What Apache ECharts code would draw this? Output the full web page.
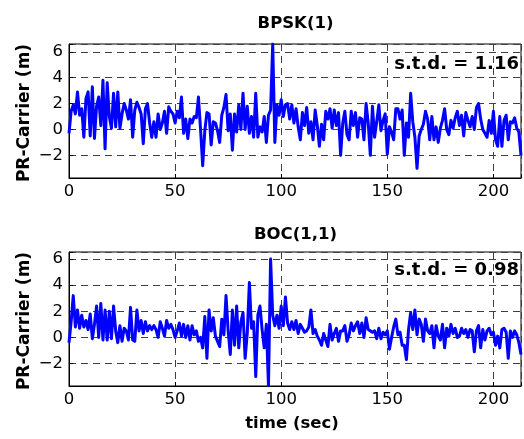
<!DOCTYPE html>
<html><head><meta charset="utf-8">
<script src="https://cdn.jsdelivr.net/npm/echarts@6/dist/echarts.min.js"></script>
<style>html,body{margin:0;padding:0;background:#fff}#c{width:524px;height:439px}</style>
</head><body><div id="c"></div>
<script>
// ---- data ----
const panelTitles = ['BPSK(1)', 'BOC(1,1)'];
const stdLabels = ['s.t.d. = 1.16', 's.t.d. = 0.98'];
const yAxisTitle = 'PR-Carrier (m)';
const xAxisTitle = 'time (sec)';
const xTicks = [0, 50, 100, 150, 200];
const yTicks = [-2, 0, 2, 4, 6];
const timeStart = 0;      // sec
const sampleStep = 1;     // sec between samples
const xRange = [0, 213];
const yRangeTop = [-3.75, 6.6];
const yRangeBottom = [-3.72, 6.54];

const bpsk = [
 -0.3,1.4,1.9,1.2,2.9,1.1,1.6,-0.6,2.4,2.9,
 -0.5,3.3,-0.7,1.8,2.5,0.3,3.8,-1.5,3.6,1.0,
 0.1,2.8,0.2,2.9,0.1,1.2,2.0,1.5,0.8,2.3,
 -0.6,1.5,2.1,1.7,1.2,-1.1,1.6,2.0,0.5,-0.6,
 0.6,-0.6,1.2,0.0,0.5,1.4,-0.3,1.75,1.4,1.2,
 0.5,1.4,0.9,2.5,-0.3,0.8,-0.7,0.8,0.5,1.0,
 0.9,2.5,0.0,-2.8,-0.1,1.3,1.2,-1.2,0.6,0.5,
 -0.1,-1.0,1.1,1.7,2.7,-0.1,1.2,-1.6,1.2,-0.2,
 1.9,0.0,2.8,0.0,1.8,-0.3,1.0,-0.6,2.8,-0.6,
 0.2,-0.2,1.0,-1.0,1.1,1.5,6.6,-1.0,1.9,1.1,
 2.3,1.0,1.9,2.0,0.8,1.9,0.5,1.6,0.2,-0.8,
 1.3,0.3,1.7,-0.3,0.6,-0.8,1.5,0.3,-1.3,0.4,
 -0.8,1.4,0.8,1.6,0.1,1.5,0.3,1.3,-2.0,0.5,
 1.4,-0.4,-0.8,1.4,0.3,1.3,-0.6,0.9,0.8,-0.8,
 2.0,0.5,-2.0,1.8,-0.6,0.6,1.9,-0.1,0.7,1.2,
 -1.9,0.2,-0.2,-0.8,1.6,1.6,0.8,1.5,-2.0,0.5,
 -0.6,2.8,0.6,-0.6,-3.0,-0.5,0.0,0.4,1.4,0.8,
 -0.8,1.0,-0.8,0.2,-1.0,0.1,0.7,1.6,0.0,-0.4,
 0.7,0.1,0.9,1.4,0.3,1.1,-0.5,1.3,0.7,0.2,
 1.0,0.0,1.7,2.0,0.8,0.0,-0.3,-0.6,0.7,-0.3,
 1.4,-0.8,-1.3,1.0,-1.3,0.7,1.1,-0.8,0.6,0.5,
 0.9,0.1,-0.2,-2.0
];

const boc = [
 -0.4,1.2,3.2,0.8,2.1,0.7,1.7,0.8,1.3,0.6,
 1.8,-0.1,1.0,2.4,0.0,2.6,-0.2,2.1,-0.2,2.0,
 -0.1,2.4,0.5,-0.4,0.9,-0.3,0.7,0.5,-0.2,2.3,
 -0.2,-0.3,2.1,0.5,1.3,0.3,1.2,0.5,0.9,0.6,
 0.9,0.6,0.0,1.2,0.7,0.1,1.3,0.7,1.0,0.6,
 0.0,0.5,1.1,0.1,1.0,0.0,0.9,-0.2,0.9,0.2,
 0.5,-0.3,0.0,-0.8,1.6,-1.6,2.1,0.5,1.5,0.1,
 -0.3,-0.7,1.4,0.2,3.2,0.5,-1.3,2.1,-0.6,2.4,
 -0.8,1.2,1.9,-1.6,0.3,4.2,0.7,1.2,-3.0,1.7,
 2.4,0.6,-0.8,1.0,-3.7,6.0,1.7,0.9,1.7,0.7,
 2.4,0.9,3.1,1.1,0.6,1.2,0.6,1.3,0.3,1.0,
 0.7,0.4,0.5,0.8,2.1,0.3,0.6,0.1,-0.2,-0.6,
 0.3,-0.2,-0.7,1.0,-0.2,0.3,0.7,-0.3,0.5,0.5,
 0.9,-0.3,0.2,1.1,0.5,0.9,1.2,0.3,1.1,0.0,
 1.5,0.6,0.5,0.4,0.5,-0.1,0.7,-0.1,0.4,0.2,
 0.5,-0.9,0.0,0.8,1.4,0.2,0.4,-0.6,-0.6,-1.7,
 0.6,1.9,0.6,2.1,0.2,1.4,1.0,-0.3,1.4,0.5,
 0.3,0.9,-0.8,0.9,0.1,-0.2,1.0,-0.8,0.7,0.1,
 1.0,0.3,0.7,0.0,0.1,0.7,0.3,0.6,0.0,0.6,
 0.5,-1.1,0.5,0.9,-0.8,0.6,-0.2,0.5,0.7,0.2,
 0.4,-0.6,0.1,-0.8,0.6,0.7,0.4,-1.6,0.5,0.0,
 0.5,0.2,-0.4,-1.3
];

// ---- chart ----
const toPairs = arr => arr.map((v, i) => [timeStart + i * sampleStep, v]);
const fmtNum = v => (v < 0 ? '\u2212' + Math.abs(v) : String(v));

const grids = [
  {left: 69, top: 44, width: 453, height: 134},
  {left: 69, top: 252, width: 453, height: 134}
];
const gridLine = {show: true, lineStyle: {color: '#404040', width: 1, type: [7, 5]}};
const labelFont = {color: '#000', fontSize: 16.5, fontFamily: 'DejaVu Sans'};

function xAx(i) {
  return {
    type: 'value', gridIndex: i, min: xRange[0], max: xRange[1],
    minInterval: xTicks[1] - xTicks[0], maxInterval: xTicks[1] - xTicks[0],
    axisLine: {show: true, onZero: false, lineStyle: {color: '#000', width: 1}},
    axisTick: {show: true, inside: true, length: 4, lineStyle: {color: '#000'}},
    axisLabel: Object.assign({margin: 5, showMaxLabel: true,
      formatter: v => xTicks.includes(v) ? fmtNum(v) : ''}, labelFont),
    splitLine: gridLine
  };
}
function yAx(i, range) {
  return {
    type: 'value', gridIndex: i, min: range[0], max: range[1],
    minInterval: yTicks[1] - yTicks[0], maxInterval: yTicks[1] - yTicks[0],
    axisLine: {show: true, lineStyle: {color: '#000', width: 1}},
    axisTick: {show: true, inside: true, length: 4, lineStyle: {color: '#000'}},
    axisLabel: Object.assign({margin: 6,
      formatter: v => yTicks.includes(v) ? fmtNum(v) : ''}, labelFont),
    splitLine: gridLine
  };
}
function seriesOf(i, arr) {
  return {
    type: 'line', xAxisIndex: i, yAxisIndex: i, data: toPairs(arr),
    showSymbol: false, symbol: 'none', clip: true,
    lineStyle: {color: '#0000ff', width: 3, join: 'round'}, itemStyle: {color: '#0000ff'}
  };
}

const txt = (x, y, text, font, align, rot) => ({
  type: 'text', x: x, y: y, rotation: rot || 0, z: 100,
  style: {text: text, font: font, fill: '#000', textAlign: align || 'center', textVerticalAlign: 'middle'}
});

const chart = echarts.init(document.getElementById('c'), null, {renderer: 'canvas'});
chart.setOption({
  animation: false,
  backgroundColor: '#fff',
  grid: grids.map(g => Object.assign({show: true, borderColor: '#000', borderWidth: 1, backgroundColor: '#fff', containLabel: false}, g)),
  xAxis: [xAx(0), xAx(1)],
  yAxis: [yAx(0, yRangeTop), yAx(1, yRangeBottom)],
  series: [seriesOf(0, bpsk), seriesOf(1, boc)],
  graphic: [
    txt(295.5, 24, panelTitles[0], 'bold 16.5px "DejaVu Sans"'),
    txt(295.5, 235, panelTitles[1], 'bold 16.5px "DejaVu Sans"'),
    txt(519, 64, stdLabels[0], 'bold 18px "DejaVu Sans"', 'right'),
    txt(519, 270, stdLabels[1], 'bold 18px "DejaVu Sans"', 'right'),
    txt(25, 113, yAxisTitle, 'bold 17px "DejaVu Sans"', 'center', Math.PI / 2),
    txt(25, 321, yAxisTitle, 'bold 17px "DejaVu Sans"', 'center', Math.PI / 2),
    txt(292, 424, xAxisTitle, 'bold 16.5px "DejaVu Sans"')
  ]
});
</script></body></html>
